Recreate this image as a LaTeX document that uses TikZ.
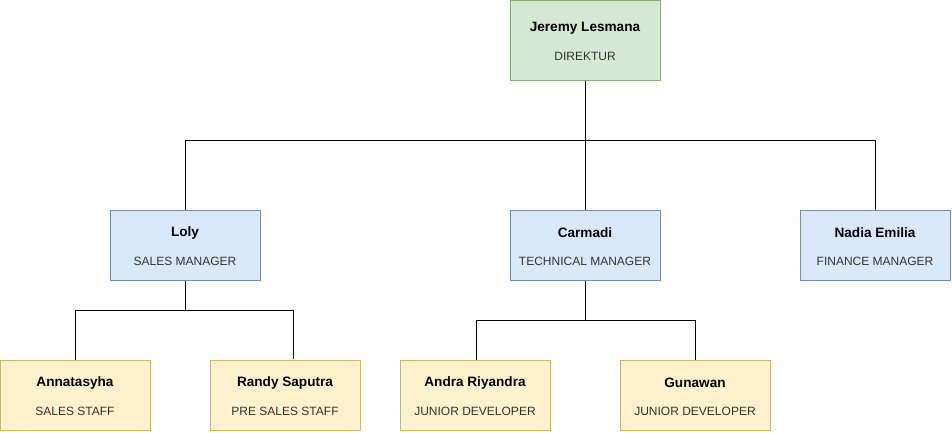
\documentclass[tikz,border=0pt]{standalone}
\usepackage{fontspec}
\setmainfont{Liberation Sans}
\definecolor{gfill}{HTML}{D5E8D4}
\definecolor{gline}{HTML}{82B366}
\definecolor{bfill}{HTML}{DAE8FC}
\definecolor{bline}{HTML}{6C8EBF}
\definecolor{yfill}{HTML}{FFF2CC}
\definecolor{yline}{HTML}{D6B656}
\definecolor{subtxt}{HTML}{333333}
\begin{document}
\begin{tikzpicture}[x=1pt,y=-1pt,
  box/.style={draw,line width=1pt,minimum width=150pt,inner sep=0pt},
  tall/.style={minimum height=80pt},
  short/.style={minimum height=70pt},
  green/.style={fill=gfill,draw=gline},
  blue/.style={fill=bfill,draw=bline},
  yellow/.style={fill=yfill,draw=yline},
  nm/.style={font=\fontsize{13.6}{15}\selectfont\bfseries,text=black,inner sep=0pt},
  rl/.style={font=\fontsize{12}{14}\selectfont,text=subtxt,inner sep=0pt},
  wire/.style={line width=1pt,draw=black}]
\useasboundingbox (0,0) rectangle (952,432);
\fill[white] (0,0) rectangle (952,432);
% boxes
\node[box,tall,green] (jer) at (585,40) {};
\node[box,short,blue] (loly) at (185,245) {};
\node[box,short,blue] (carm) at (585,245) {};
\node[box,short,blue] (nadia) at (875,245) {};
\node[box,short,yellow] (anna) at (75,395) {};
\node[box,short,yellow] (randy) at (285,395) {};
\node[box,short,yellow] (andra) at (475,395) {};
\node[box,short,yellow] (guna) at (695,395) {};
% texts
\node[nm] (jer-n) at ([yshift=12pt]jer.center) {Jeremy Lesmana};
\node[rl] (jer-r) at ([yshift=-16pt]jer.center) {DIREKTUR};
\node[nm] (loly-n) at ([yshift=12pt]loly.center) {Loly};
\node[rl] (loly-r) at ([yshift=-16pt]loly.center) {SALES MANAGER};
\node[nm] (carm-n) at ([yshift=12pt]carm.center) {Carmadi};
\node[rl] (carm-r) at ([yshift=-16pt]carm.center) {TECHNICAL MANAGER};
\node[nm] (nadia-n) at ([yshift=12pt]nadia.center) {Nadia Emilia};
\node[rl] (nadia-r) at ([yshift=-16pt]nadia.center) {FINANCE MANAGER};
\node[nm] (anna-n) at ([yshift=12pt]anna.center) {Annatasyha};
\node[rl] (anna-r) at ([yshift=-16pt]anna.center) {SALES STAFF};
\node[nm] (randy-n) at ([yshift=12pt]randy.center) {Randy Saputra};
\node[rl] (randy-r) at ([yshift=-16pt]randy.center) {PRE SALES STAFF};
\node[nm] (andra-n) at ([yshift=12pt]andra.center) {Andra Riyandra};
\node[rl] (andra-r) at ([yshift=-16pt]andra.center) {JUNIOR DEVELOPER};
\node[nm] (guna-n) at ([yshift=12pt]guna.center) {Gunawan};
\node[rl] (guna-r) at ([yshift=-16pt]guna.center) {JUNIOR DEVELOPER};
% bus levels
\coordinate (bus1) at (0,140);
\coordinate (bus2) at (0,310);
\coordinate (bus3) at (0,320);
\coordinate (randyIn) at (293,359);
\coordinate (andraIn) at (476,360);
\coordinate (gunaIn) at (695.5,360);
% connectors
\draw[wire] (jer.south) -- (jer.south |- bus1) -| (loly.north);
\draw[wire] (jer.south |- bus1) -| (carm.north);
\draw[wire] (jer.south |- bus1) -| ([xshift=0.5pt]nadia.north);
\draw[wire] (loly.south) -- (loly.south |- bus2) -| ([xshift=0.5pt]anna.north);
\draw[wire] (loly.south |- bus2) -| (randyIn);
\draw[wire] (carm.south) -- (carm.south |- bus3) -| (andraIn);
\draw[wire] (carm.south |- bus3) -| (gunaIn);
\end{tikzpicture}
\end{document}
